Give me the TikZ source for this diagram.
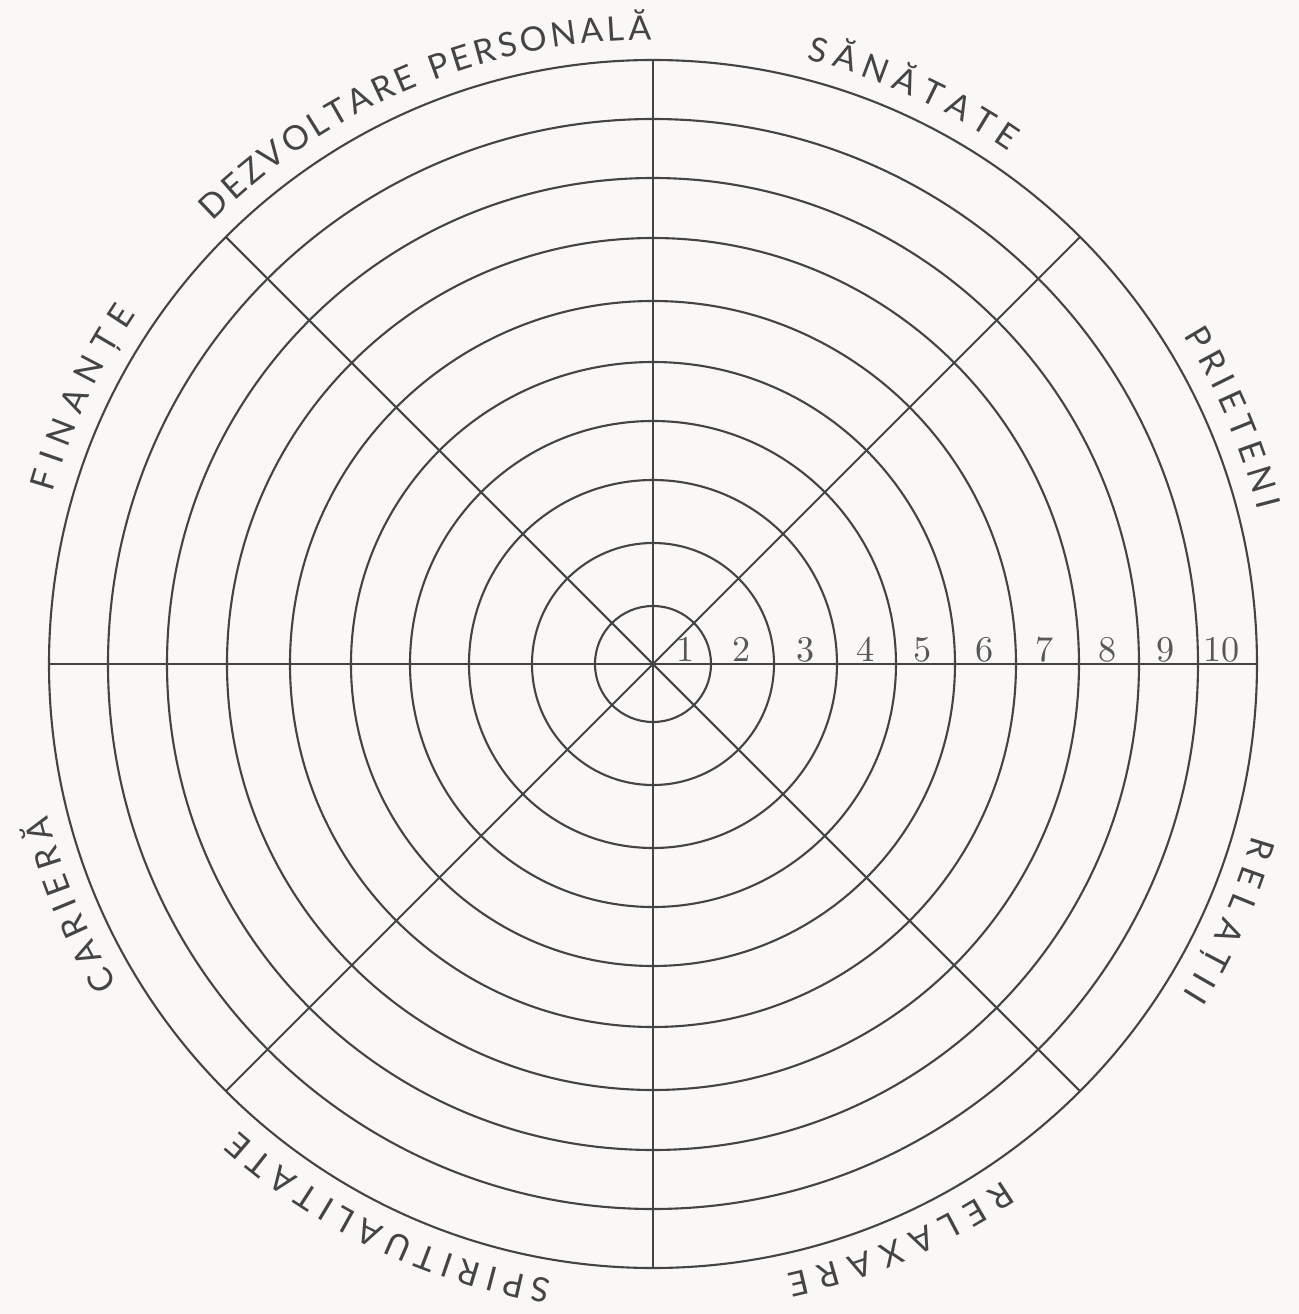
\documentclass[tikz,border=0pt]{standalone}
\usepackage{fontspec}
\newfontfamily\wheelfont{Lato}
\usetikzlibrary{decorations.text}
\definecolor{paper}{HTML}{F9F8F6}
\definecolor{ink}{HTML}{444444}
\newcommand\areafont{\wheelfont\fontsize{9.6}{12}\selectfont}

\begin{document}
\begin{tikzpicture}[x=0.01cm, y=0.01cm, line width=0.6pt, every node/.style={font=\fontsize{10.3}{12}\selectfont}]
	\fill[paper] (-653,-650) rectangle (646,664);
	\useasboundingbox (-653,-650) rectangle (646,664);
	% rings and spokes
	\foreach \r in {58,121,184,243,302,363,426,486,545,604}
		\draw[ink] (0,0) circle[radius=\r];
	\foreach \a in {0,45,...,315}
		\draw[ink] (0,0) -- (\a:604);
	% scale
	\foreach \k/\x in {1/33, 2/89, 3/153, 4/213, 5/270, 6/332, 7/392, 8/455, 9/513, 10/569}
		\node[text=ink!90, anchor=base, inner sep=0pt] (n\k) at (\x,3) {\k};
	% areas
	\foreach \a/\ls/\lab in {112.5/0.5/DEZVOLTARE PERSONALĂ, 65.5/1.05/SĂNĂTATE, 23/0.95/PRIETENI, -24/1.3/RELAȚII, -66.7/1.45/RELAXARE, -115.5/1.05/SPIRITUALITATE, -157.5/1.05/CARIERĂ, -205/1.3/FINANȚE}
		\path[decorate, decoration={text effects along path, text/.expand once=\lab, text align=center,
			text effects/.cd, text along path, characters={font=\areafont, text=ink}, character widths={font=\areafont, inner xsep=\ls pt}}]
			(\a+40:624) arc[start angle=\a+40, end angle=\a-40, radius=624];
\end{tikzpicture}
\end{document}
